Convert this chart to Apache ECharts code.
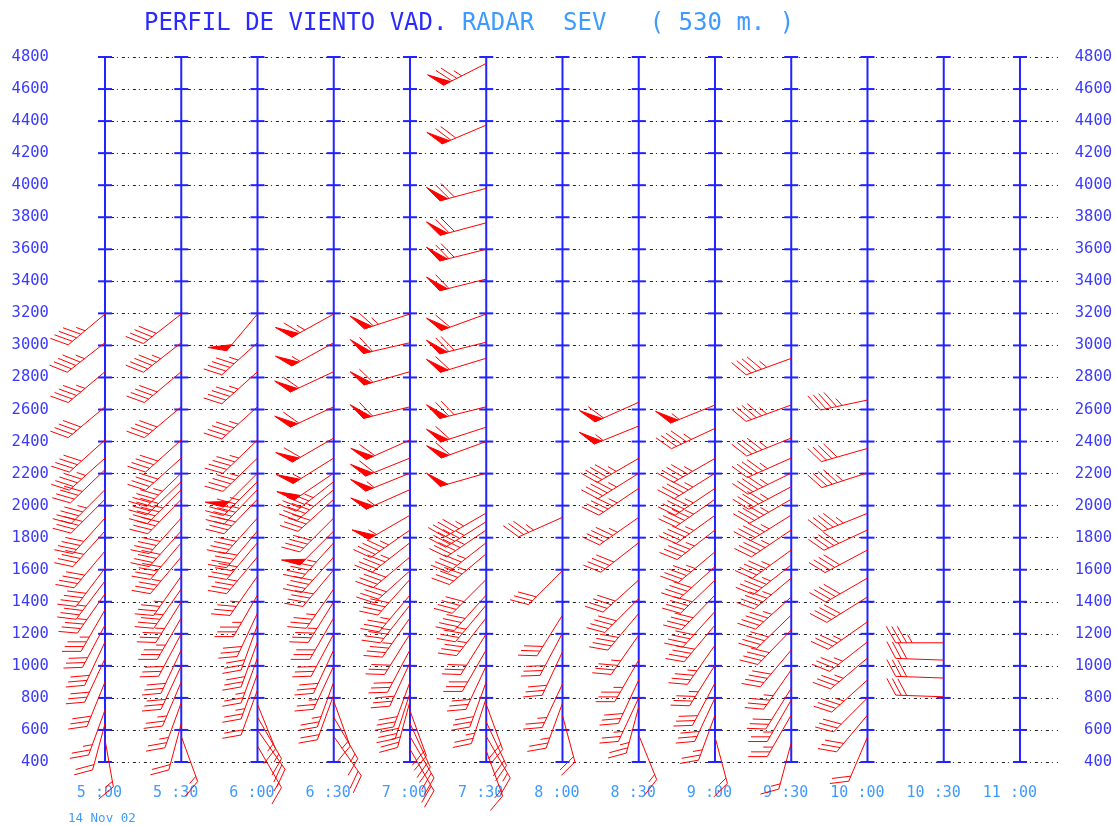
<!DOCTYPE html>
<html><head><meta charset="utf-8">
<script src="https://cdn.jsdelivr.net/npm/echarts@6/dist/echarts.min.js"></script>
<style>html,body{margin:0;padding:0;background:#fff}#c{width:1117px;height:825px}</style>
</head><body><div id="c"></div>
<script>
// time positions: minutes after 5:00
const times = [0,30,60,90,120,150,180,210,240,270,300,330,360];
const timeLabels = ['5 :00','5 :30','6 :00','6 :30','7 :00','7 :30','8 :00','8 :30','9 :00','9 :30','10 :00','10 :30','11 :00'];
const heightTicks = [400,600,800,1000,1200,1400,1600,1800,2000,2200,2400,2600,2800,3000,3200,3400,3600,3800,4000,4200,4400,4600,4800];
const dateLabel = '14 Nov 02';
// wind barbs per time: [height m, direction deg (from), speed kt]
const w0500 = [[3196,230,45],[3017,232,45],[2836,230,45],[2617,230,40],[2410,228,40],[2297,228,45],[2225,226,40],[2100,225,45],[2040,225,40],[1923,222,40],[1842,222,40],[1717,220,40],[1610,217,40],[1530,217,35],[1450,215,35],[1350,210,35],[1255,208,30],[1150,205,30],[1045,205,30],[900,202,30],[725,200,25],[640,195,20],[540,170,15]];
const w0530 = [[3196,232,40],[3017,232,45],[2836,230,40],[2617,230,40],[2410,228,40],[2297,228,40],[2203,226,45],[2150,226,40],[2100,225,45],[2040,224,40],[1923,222,40],[1842,222,40],[1769,220,40],[1680,220,35],[1560,215,35],[1480,215,35],[1400,212,35],[1300,210,35],[1200,208,30],[1100,205,30],[1000,205,30],[900,203,25],[770,200,25],[640,195,20],[560,160,15]];
const w0600 = [[3196,220,50],[3017,228,45],[2836,228,45],[2617,228,45],[2410,226,45],[2297,226,45],[2203,225,50],[2150,225,45],[2100,224,45],[2040,224,40],[1923,222,40],[1842,220,40],[1769,220,40],[1680,220,35],[1560,215,35],[1442,210,35],[1330,205,30],[1255,200,30],[1150,200,30],[1050,200,25],[950,200,25],[850,200,20],[760,158,15],[680,150,15],[600,145,20],[500,150,15]];
const w0630 = [[3196,241,65],[3017,241,55],[2836,245,60],[2617,245,60],[2422,240,60],[2297,238,55],[2203,236,50],[2150,232,45],[2100,230,45],[2040,228,40],[1923,225,40],[1842,225,50],[1769,222,45],[1680,222,40],[1600,220,40],[1480,215,35],[1400,212,35],[1300,210,30],[1200,208,30],[1100,205,30],[1000,205,25],[900,200,25],[820,200,20],[780,160,15],[680,150,15],[560,145,20]];
const w0700 = [[3196,252,65],[3017,257,60],[2836,254,60],[2617,256,60],[2410,246,60],[2297,248,60],[2203,248,55],[2100,246,55],[1940,240,55],[1848,235,45],[1769,232,45],[1680,230,40],[1594,228,40],[1540,222,40],[1442,220,35],[1380,218,35],[1300,215,35],[1200,212,30],[1100,208,30],[1020,205,30],[900,200,30],[830,198,30],[780,195,25],[720,160,20],[640,155,20],[560,150,20],[480,150,20]];
const w0730 = [[4760,243,75],[4375,247,70],[3980,255,70],[3765,255,70],[3600,256,70],[3414,256,60],[3196,250,60],[3020,256,70],[2920,253,60],[2617,256,70],[2490,252,60],[2400,250,60],[2203,254,50],[1954,240,45],[1900,238,45],[1848,236,45],[1769,232,45],[1700,230,45],[1540,225,40],[1442,222,40],[1380,220,35],[1300,218,35],[1200,212,30],[1100,210,30],[1000,205,30],[900,200,30],[800,198,25],[760,160,20],[650,155,20],[560,150,15],[470,160,15]];
const w0800 = [[1927,246,35],[1594,225,30],[1317,212,30],[1205,208,30],[1088,205,30],[887,205,25],[768,200,25],[690,165,20]];
const w0830 = [[2645,246,60],[2497,248,55],[2295,240,45],[2202,238,45],[2108,236,45],[1927,235,45],[1769,232,40],[1536,228,40],[1420,225,40],[1328,220,40],[1192,215,35],[1036,210,35],[912,205,30],[800,205,25],[745,195,25],[568,158,15]];
const w0900 = [[2628,248,55],[2482,245,45],[2295,240,45],[2202,238,45],[2108,236,45],[2040,235,45],[1940,234,45],[1848,232,45],[1712,230,45],[1620,228,40],[1536,226,40],[1442,224,40],[1340,222,40],[1255,220,40],[1130,215,35],[1005,212,35],[893,208,30],[800,205,30],[693,200,25],[556,165,15]];
const w0930 = [[2919,250,45],[2628,250,45],[2422,248,45],[2297,246,45],[2203,244,45],[2118,242,45],[2040,240,45],[1941,238,45],[1848,236,45],[1723,234,45],[1630,232,45],[1548,230,45],[1430,228,45],[1317,226,40],[1224,224,40],[1099,220,40],[975,215,35],[860,212,30],[787,210,25],[693,210,25],[520,195,15]];
const w1000 = [[2659,258,45],[2357,254,40],[2205,252,45],[1952,248,45],[1848,245,40],[1723,242,40],[1548,240,40],[1430,238,40],[1275,235,35],[1150,232,35],[1049,230,35],[912,228,35],[800,225,30],[693,220,30],[556,203,20]];
const w1030 = [[1144,270,35],[1036,272,30],[924,272,30],[807,272,30]];
const windCols = [w0500,w0530,w0600,w0630,w0700,w0730,w0800,w0830,w0900,w0930,w1000,w1030];

const barbData = [];
windCols.forEach((col,i)=>col.forEach(r=>barbData.push([times[i],r[0],r[1],r[2]])));

const RED='#ff0000', BLUE='#2323ff';
const STAFF=48, FL=19, SP=5.5, PW=8;

function renderBarb(params, api){
  const t=api.value(0),h=api.value(1),dir=api.value(2),spd=api.value(3);
  const p=api.coord([t,h]);
  const r=dir*Math.PI/180;
  const ux=Math.sin(r), uy=-Math.cos(r);
  const c60=0.5, s60=Math.sqrt(3)/2;
  const fx=ux*c60-uy*s60, fy=ux*s60+uy*c60;
  const tx=p[0]+STAFF*ux, ty=p[1]+STAFF*uy;
  const q=d=>[tx-d*ux, ty-d*uy];
  const ch=[{type:'line',shape:{x1:p[0],y1:p[1],x2:tx,y2:ty},style:{stroke:RED,lineWidth:1}}];
  let n50=Math.floor(spd/50), rem=spd-50*n50, n10=Math.floor(rem/10), n5=(rem-10*n10)>=5?1:0;
  let d=0;
  for(let k=0;k<n50;k++){
    const a=q(d), b=q(d+PW);
    ch.push({type:'polygon',shape:{points:[a,[a[0]+FL*fx,a[1]+FL*fy],b]},style:{fill:RED,stroke:RED,lineWidth:1}});
    d+=PW+1.5;
  }
  for(let k=0;k<n10;k++){
    const a=q(d);
    ch.push({type:'line',shape:{x1:a[0],y1:a[1],x2:a[0]+FL*fx,y2:a[1]+FL*fy},style:{stroke:RED,lineWidth:1}});
    d+=SP;
  }
  if(n5){
    if(d===0) d=SP;
    const a=q(d);
    ch.push({type:'line',shape:{x1:a[0],y1:a[1],x2:a[0]+FL*0.5*fx,y2:a[1]+FL*0.5*fy},style:{stroke:RED,lineWidth:1}});
  }
  return {type:'group',children:ch};
}

function renderVLine(params, api){
  const t=api.value(0);
  const top=api.coord([t,4800]), bot=api.coord([t,400]);
  const ch=[{type:'line',shape:{x1:top[0],y1:top[1],x2:bot[0],y2:bot[1]},style:{stroke:BLUE,lineWidth:2}}];
  heightTicks.forEach(hh=>{
    const c=api.coord([t,hh]);
    ch.push({type:'line',shape:{x1:c[0]-7,y1:c[1],x2:c[0]+7,y2:c[1]},style:{stroke:BLUE,lineWidth:2}});
  });
  return {type:'group',children:ch};
}

function renderXLabel(params, api){
  const i=params.dataIndex;
  const c=api.coord([times[i],400]);
  return {type:'text',x:c[0]+17,y:c[1]+31,style:{text:timeLabels[i],fill:'#3d9bff',font:'15px "DejaVu Sans Mono"',textAlign:'right',textVerticalAlign:'middle'}};
}

const chart=echarts.init(document.getElementById('c'),null,{renderer:'canvas'});
const yLab={color:'#3a3aff',fontFamily:'DejaVu Sans Mono',fontSize:15.5,formatter:v=>String(v)};
chart.setOption({
  animation:false,
  backgroundColor:'#fff',
  title:{
    text:'{a|PERFIL DE VIENTO VAD.}{b| RADAR  SEV   ( 530 m. )}',
    left:139, top:7,
    textStyle:{fontWeight:'normal',rich:{
      a:{color:'#2a2aff',fontFamily:'DejaVu Sans Mono',fontSize:24,fontWeight:'normal'},
      b:{color:'#3d9bff',fontFamily:'DejaVu Sans Mono',fontSize:24,fontWeight:'normal'}
    }}
  },
  graphic:[{type:'text',left:68,top:812,style:{text:dateLabel,fill:'#3d9bff',font:'12.5px "DejaVu Sans Mono"'}}],
  grid:{left:99.92,right:58.9,top:57,bottom:63,containLabel:false},
  xAxis:{type:'value',min:-2,max:375,show:false,splitLine:{show:false}},
  yAxis:[
    {type:'value',min:400,max:4800,interval:200,position:'left',
     axisLine:{show:false},axisTick:{show:false},
     axisLabel:{...yLab,margin:51,align:'right'},
     splitLine:{show:true,lineStyle:{color:'#222',width:1,type:[3,3,1,4]}}},
    {type:'value',min:400,max:4800,interval:200,position:'right',
     axisLine:{show:false},axisTick:{show:false},
     axisLabel:{...yLab,margin:54,align:'right'},
     splitLine:{show:false}}
  ],
  series:[
    {type:'custom',name:'vlines',data:times.map(t=>[t,400]),encode:{x:0,y:1},renderItem:renderVLine,clip:false,silent:true,z:2},
    {type:'custom',name:'xlabels',data:times.map(t=>[t,400]),encode:{x:0,y:1},renderItem:renderXLabel,clip:false,silent:true,z:2},
    {type:'custom',name:'barbs',data:barbData,encode:{x:0,y:1},renderItem:renderBarb,clip:false,silent:true,z:5}
  ]
});
</script></body></html>
